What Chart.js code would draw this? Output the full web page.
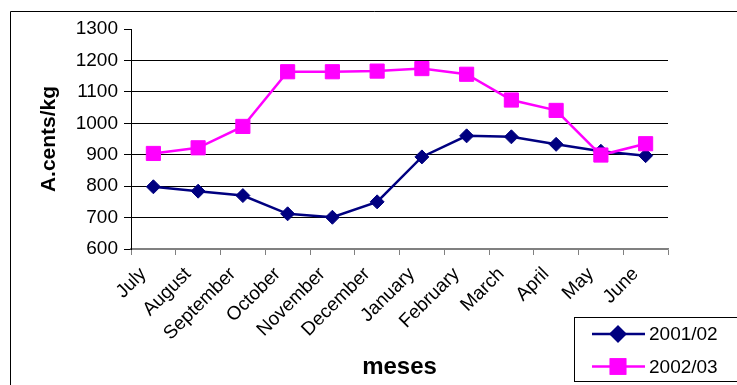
<!DOCTYPE html>
<html>
<head>
<meta charset="utf-8">
<script src="https://cdn.jsdelivr.net/npm/chart.js@4.4.1/dist/chart.umd.min.js"></script>
<style>
  html, body { margin: 0; padding: 0; background: #fff; }
  #wrap { width: 737px; height: 385px; }
</style>
</head>
<body>
<div id="wrap"><canvas id="c" width="737" height="385"></canvas></div>
<script>
// Monthly prices (A.cents/kg), two marketing seasons
const months = ['July', 'August', 'September', 'October', 'November', 'December',
                'January', 'February', 'March', 'April', 'May', 'June'];
const season2001 = [798, 784, 770, 712, 701, 750, 893, 960, 957, 933, 911, 897];
const season2002 = [904, 922, 990, 1164, 1164, 1166, 1174, 1156, 1074, 1041, 899, 935];
const yTicks = [600, 700, 800, 900, 1000, 1100, 1200, 1300];

const FONT = "'Liberation Sans', Arial, sans-serif";

// Frame around the whole chart and the boxed legend in the lower right corner
const framePlugin = {
  id: 'frame',
  afterDraw(chart) {
    const ctx = chart.ctx;
    ctx.save();
    ctx.strokeStyle = '#000';
    ctx.lineWidth = 1;
    ctx.beginPath();
    ctx.moveTo(10.5, 390);
    ctx.lineTo(10.5, 11.5);
    ctx.lineTo(740, 11.5);
    ctx.stroke();

    // legend box
    ctx.fillStyle = '#fff';
    ctx.fillRect(574.5, 317.5, 170, 64);
    ctx.strokeRect(574.5, 317.5, 170, 64);

    const rows = [334, 366.5];
    chart.data.datasets.forEach((ds, i) => {
      const y = rows[i];
      ctx.strokeStyle = ds.borderColor;
      ctx.lineWidth = 2.5;
      ctx.beginPath();
      ctx.moveTo(592, y);
      ctx.lineTo(645, y);
      ctx.stroke();
      Chart.helpers.drawPoint(ctx, {
        pointStyle: ds.pointStyle,
        radius: ds.pointStyle === 'rect' ? 10 : 7,
        borderWidth: 1
      }, 618, y);
      ctx.fillStyle = ds.pointBackgroundColor;
      ctx.strokeStyle = ds.pointBorderColor;
      ctx.fill();
      ctx.stroke();
      ctx.fillStyle = '#000';
      ctx.font = '19px ' + FONT;
      ctx.textBaseline = 'middle';
      ctx.textAlign = 'left';
      ctx.fillText(ds.label, 649, y + 1);
    });
    ctx.restore();
  }
};

new Chart(document.getElementById('c'), {
  type: 'line',
  data: {
    labels: months,
    datasets: [
      {
        label: '2001/02',
        data: season2001,
        borderColor: '#000080',
        backgroundColor: '#000080',
        pointBackgroundColor: '#000080',
        pointBorderColor: '#000080',
        borderWidth: 2.5,
        pointStyle: 'rectRot',
        pointRadius: 7,
        pointBorderWidth: 1,
        tension: 0,
        order: 1
      },
      {
        label: '2002/03',
        data: season2002,
        borderColor: '#FF00FF',
        backgroundColor: '#FF00FF',
        pointBackgroundColor: '#FF00FF',
        pointBorderColor: '#FF00FF',
        borderWidth: 2.5,
        pointStyle: 'rect',
        pointRadius: 10,
        pointBorderWidth: 1,
        tension: 0,
        order: 0
      }
    ]
  },
  options: {
    responsive: false,
    animation: false,
    layout: { padding: { left: 0, top: 29, right: 69, bottom: 0 } },
    plugins: {
      legend: { display: false },
      tooltip: { enabled: false }
    },
    scales: {
      x: {
        type: 'category',
        offset: true,
        grid: {
          offset: true,
          drawOnChartArea: false,
          drawTicks: true,
          tickLength: 6,
          color: '#808080'
        },
        border: { display: true, color: '#808080', width: 1.5 },
        ticks: {
          autoSkip: false,
          minRotation: 45,
          maxRotation: 45,
          padding: 8,
          labelOffset: -10,
          color: '#000',
          font: { family: FONT, size: 19 }
        },
        title: {
          display: true,
          text: 'meses',
          color: '#000',
          font: { family: FONT, size: 24, weight: 'bold' },
          padding: { top: 0, bottom: 3 }
        },
        afterFit(scale) { scale.height = 136; }
      },
      y: {
        min: 600,
        max: 1300,
        afterBuildTicks(scale) { scale.ticks = yTicks.map(v => ({ value: v })); },
        grid: {
          drawTicks: true,
          tickLength: 7,
          color: (c) => {
            if (!c.tick) return '#000';
            if (c.tick.value === 1300) return 'rgba(0,0,0,0)';
            if (c.tick.value === 600) return '#808080';
            return '#000';
          },
          tickColor: '#000'
        },
        border: { display: true, color: '#000', width: 1 },
        ticks: {
          padding: 6,
          color: '#000',
          font: { family: FONT, size: 19 },
          callback: (v) => String(v)
        },
        title: {
          display: true,
          text: 'A.cents/kg',
          color: '#000',
          font: { family: FONT, size: 21, weight: 'bold' },
          padding: { top: 37, bottom: 0 }
        },
        afterFit(scale) { scale.width = 131; }
      }
    }
  },
  plugins: [framePlugin]
});
</script>
</body>
</html>
